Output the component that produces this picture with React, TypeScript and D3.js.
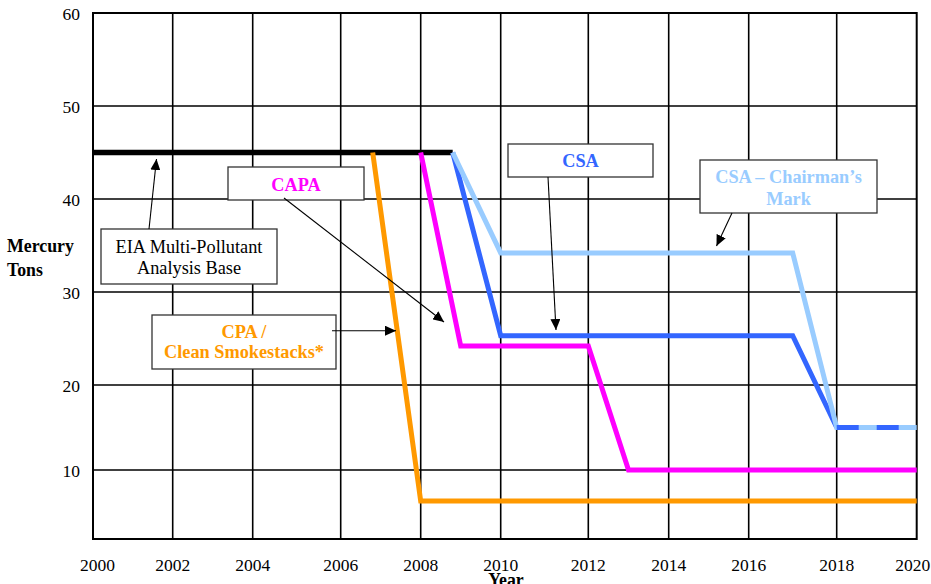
import React from "react";
import * as d3 from "d3";

// Mercury emission caps (tons) by proposal
const tickYears = [2000, 2002, 2004, 2006, 2008, 2010, 2012, 2014, 2016, 2018, 2020];
const tickTons = [10, 20, 30, 40, 50, 60];

const baseYears = [2000, 2008.8];
const baseTons = [45, 45];

const cpaYears = [2006.8, 2008, 2020];
const cpaTons = [45, 5.5, 5.5];

const capaYears = [2008, 2009, 2012, 2013, 2020];
const capaTons = [45, 24.2, 24.2, 10, 10];

const csaYears = [2008.8, 2010, 2017, 2018, 2020];
const csaTons = [45, 25.3, 25.3, 15, 15];

const markYears = [2008.8, 2010, 2017, 2018, 2020];
const markTons = [45, 34.2, 34.2, 15, 15];

const W = 931;
const H = 584;
const FONT = "'Liberation Serif', 'Times New Roman', serif";

const ORANGE = "#FF9900";
const MAGENTA = "#FF00FF";
const BLUE = "#3366FF";
const LIGHT_BLUE = "#99CCFF";

// Piecewise scales follow the chart's gridline spacing
const x = d3
  .scaleLinear()
  .domain(tickYears)
  .range([93, 172.7, 252.7, 340.7, 420.7, 500.7, 588.3, 668.7, 748.7, 836.7, 916.7]);
const y = d3
  .scaleLinear()
  .domain([0, 10, 20, 30, 40, 50, 60])
  .range([539, 470, 385, 292, 199, 106, 13]);

type Pt = [number, number];
const zip = (xs: number[], ys: number[]): Pt[] => xs.map((v, i) => [v, ys[i]]);
const line = d3
  .line<Pt>()
  .x((d) => x(d[0]))
  .y((d) => y(d[1]));

type Box = {
  x0: number;
  y0: number;
  x1: number;
  y1: number;
  lines: string[];
  baselines: number[];
  color: string;
  bold: boolean;
  arrow: [number, number, number, number];
};

const boxes: Box[] = [
  {
    x0: 101, y0: 229, x1: 277, y1: 284,
    lines: ["EIA Multi-Pollutant", "Analysis Base"],
    baselines: [253, 274],
    color: "#000",
    bold: false,
    arrow: [149, 229, 156.5, 159],
  },
  {
    x0: 228, y0: 167, x1: 364, y1: 200,
    lines: ["CAPA"],
    baselines: [190.5],
    color: MAGENTA,
    bold: true,
    arrow: [284, 198, 444, 322],
  },
  {
    x0: 152, y0: 315, x1: 336, y1: 369,
    lines: ["CPA /", "Clean Smokestacks*"],
    baselines: [338, 357.5],
    color: ORANGE,
    bold: true,
    arrow: [332, 330.7, 396, 330.7],
  },
  {
    x0: 508, y0: 144, x1: 653, y1: 177,
    lines: ["CSA"],
    baselines: [167],
    color: BLUE,
    bold: true,
    arrow: [548, 177, 556, 330],
  },
  {
    x0: 700, y0: 160, x1: 877, y1: 213,
    lines: ["CSA \u2013 Chairman\u2019s", "Mark"],
    baselines: [183, 205],
    color: LIGHT_BLUE,
    bold: true,
    arrow: [732, 213, 716.5, 246],
  },
];

export default function App() {
  const [xl, xr] = [x(2000), x(2020)];
  const [yt, yb] = [y(60), y(0)];

  const csaPts = zip(csaYears, csaTons);
  const csaSolid = csaPts.filter((d) => d[0] <= 2018);
  const csaDashed = csaPts.filter((d) => d[0] >= 2018);

  const seriesStyle = {
    fill: "none",
    strokeWidth: 5,
    strokeLinejoin: "miter" as const,
    strokeLinecap: "butt" as const,
  };

  // keep the outermost year labels inside the frame edges
  const labelX = (t: number) => {
    if (t === tickYears[0]) return x(t) + 4.5;
    if (t === tickYears[tickYears.length - 1]) return x(t) - 4;
    return x(t);
  };

  return (
    <svg
      width={W}
      height={H}
      viewBox={`0 0 ${W} ${H}`}
      style={{ position: "absolute", left: 0, top: 0, background: "#fff" }}
      fontFamily={FONT}
    >
      <defs>
        <marker
          id="arrowhead"
          markerUnits="userSpaceOnUse"
          markerWidth={12}
          markerHeight={10}
          refX={11}
          refY={5}
          orient="auto"
        >
          <path d="M0,0 L11,5 L0,10 Z" fill="#000" />
        </marker>
      </defs>

      {/* gridlines */}
      <g stroke="#000" strokeWidth={1.6}>
        {tickYears.slice(1, -1).map((t) => (
          <line key={`v${t}`} x1={x(t)} x2={x(t)} y1={yt} y2={yb} />
        ))}
        {tickTons.slice(0, -1).map((t) => (
          <line key={`h${t}`} x1={xl} x2={xr} y1={y(t)} y2={y(t)} />
        ))}
      </g>

      {/* plot frame */}
      <rect x={xl} y={yt} width={xr - xl} height={yb - yt} fill="none" stroke="#000" strokeWidth={2} />

      {/* series */}
      <path d={line(zip(baseYears, baseTons)) || ""} stroke="#000" {...seriesStyle} strokeWidth={5.5} />
      <path d={line(zip(cpaYears, cpaTons)) || ""} stroke={ORANGE} {...seriesStyle} />
      <path d={line(zip(capaYears, capaTons)) || ""} stroke={MAGENTA} {...seriesStyle} />
      <path d={line(csaSolid) || ""} stroke={BLUE} {...seriesStyle} />
      <path d={line(zip(markYears, markTons)) || ""} stroke={LIGHT_BLUE} {...seriesStyle} />
      <path d={line(csaDashed) || ""} stroke={BLUE} {...seriesStyle} strokeDasharray="22 18" />

      {/* annotation boxes */}
      {boxes.map((b, i) => (
        <g key={`box${i}`}>
          <rect
            x={b.x0}
            y={b.y0}
            width={b.x1 - b.x0}
            height={b.y1 - b.y0}
            fill="#fff"
            stroke="#333"
            strokeWidth={1.3}
          />
          {b.lines.map((s, j) => (
            <text
              key={j}
              x={(b.x0 + b.x1) / 2}
              y={b.baselines[j]}
              textAnchor="middle"
              fontSize={18.3}
              fontWeight={b.bold ? "bold" : "normal"}
              fill={b.color}
            >
              {s}
            </text>
          ))}
        </g>
      ))}

      {/* arrows */}
      {boxes.map((b, i) => (
        <line
          key={`arrow${i}`}
          x1={b.arrow[0]}
          y1={b.arrow[1]}
          x2={b.arrow[2]}
          y2={b.arrow[3]}
          stroke="#000"
          strokeWidth={1.1}
          markerEnd="url(#arrowhead)"
        />
      ))}

      {/* y tick labels */}
      {tickTons.map((t) => (
        <text key={`yl${t}`} x={80} y={y(t) + 6.5} textAnchor="end" fontSize={17.5} fill="#000">
          {t}
        </text>
      ))}

      {/* x tick labels */}
      {tickYears.map((t) => (
        <text key={`xl${t}`} x={labelX(t)} y={571} textAnchor="middle" fontSize={17.5} fill="#000">
          {t}
        </text>
      ))}

      {/* axis titles */}
      <text x={7} y={252} fontSize={17.8} fontWeight="bold" fill="#000">
        Mercury
      </text>
      <text x={7} y={275.5} fontSize={17.8} fontWeight="bold" fill="#000">
        Tons
      </text>
      <text x={506} y={586} textAnchor="middle" fontSize={17.8} fontWeight="bold" fill="#000">
        Year
      </text>
    </svg>
  );
}
